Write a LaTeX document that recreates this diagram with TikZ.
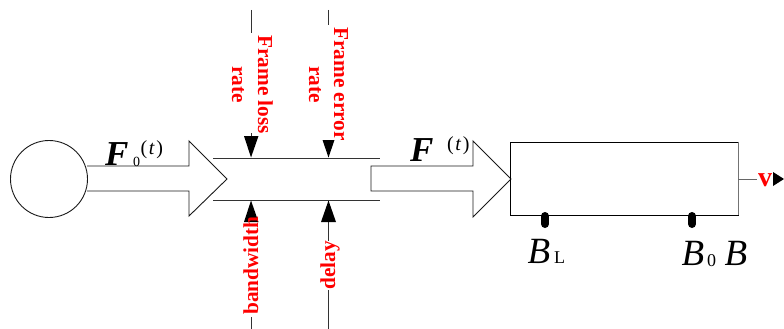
\documentclass[tikz,border=0pt]{standalone}
\usepackage{fontspec}
\setmainfont{Liberation Serif}
\usetikzlibrary{arrows.meta}
\definecolor{lineg}{gray}{0.2}
\tikzset{
 x=1pt,y=-1pt,
 wire/.style={draw=lineg,line width=1pt},
 outline/.style={draw=black!90,line width=0.9pt},
 head/.style={fill=black,draw=none},
 pill/.style={line width=8pt,line cap=round,draw=black},
 redtxt/.style={text=red,font=\fontsize{21.3}{21.3}\selectfont\bfseries,inner sep=0pt},
 bigF/.style={inner sep=0pt,anchor=base west,font=\fontsize{35}{35}\selectfont\bfseries\itshape},
 bigB/.style={inner sep=0pt,anchor=base west,font=\fontsize{37}{37}\selectfont\itshape},
 small/.style={inner sep=0pt,anchor=base west,font=\fontsize{18}{18}\selectfont},
 tlabel/.style={inner sep=0pt,anchor=base west,font=\fontsize{20}{20}\selectfont},
}
\begin{document}
\begin{tikzpicture}
\useasboundingbox (0,0) rectangle (784,329);
% source
\draw[outline] (49,179) circle (38.5);
% fat arrows
\draw[outline] (87,166) -- (189,166) -- (189,141) -- (227,179) -- (189,216) -- (189,191) -- (87,191);
\draw[outline] (371,166) -- (473,166) -- (473,141) -- (511,179) -- (473,217) -- (473,191) -- (371,191) -- cycle;
% pipe
\coordinate (pipeTL) at (213,158); \coordinate (pipeTR) at (380,158);
\coordinate (pipeBL) at (213,200); \coordinate (pipeBR) at (380,200);
\draw[wire] (pipeTL) -- (pipeTR);
\draw[wire] (pipeBL) -- (pipeBR);
% top connectors
\coordinate (t1a) at (251,10); \coordinate (t1b) at (251,33);
\coordinate (t2a) at (328,10); \coordinate (t2b) at (328,25);
\draw[wire] (t1a) -- (t1b);
\draw[wire] (t2a) -- (t2b);
\draw[wire] (251,133) -- (251,140);
\fill[head] (244,136) -- (258.5,136) -- (251,157.5) -- cycle;
\fill[head] (322.5,140) -- (334.5,140) -- (328.5,157.5) -- cycle;
% bottom connectors
\coordinate (b1a) at (251,317); \coordinate (b1b) at (251,329);
\coordinate (b2a) at (328.5,222); \coordinate (b2b) at (328.5,329);
\draw[wire] (b1a) -- (b1b);
\draw[wire] (b2a) -- (b2b);
\fill[head] (251,200.5) -- (258.5,222) -- (244,222) -- cycle;
\fill[head] (328.5,200.5) -- (336,222) -- (321,222) -- cycle;
% receiver
\node[draw=black,line width=0.9pt,minimum width=228pt,minimum height=73pt,inner sep=0pt] (box) at (624,178.5) {};
\coordinate (vout) at (757,179);
\draw[draw=black!55,line width=1pt] (box.north east) -- (box.south east);
\draw[wire,draw=black!60] (box.east |- vout) -- (vout);
\fill[head] (773,172) -- (784,179) -- (773,186) -- cycle;
\draw[pill] (545,216) -- (545,224);
\draw[pill] (692,216) -- (692,224);
% red labels
\node[redtxt,rotate=-90,anchor=base west] (fl1) at (258,35) {Frame loss};
\node[redtxt,rotate=-90,anchor=base west] (fl2) at (232,66) {rate};
\node[redtxt,rotate=-90,anchor=base west] (fe1) at (334,27) {Frame error};
\node[redtxt,rotate=-90,anchor=base west] (fe2) at (309,66) {rate};
\node[redtxt,rotate=90,anchor=base west] (bw) at (258,315) {bandwidth};
\node[redtxt,rotate=90,anchor=base west,fill=white] (dl) at (335,290) {delay};
\node[inner sep=0pt,anchor=base west,text=red,font=\fontsize{28}{28}\selectfont\bfseries] (v) at (758,186) {v};
% math-like labels
\node[bigF] (f0) at (105,165) {F};
\node[small,font=\fontsize{14}{14}\selectfont] (f0s) at (133,166) {0};
\node[tlabel] (f0t) at (140.5,154) {(\kern1.5pt\textit{t}\kern1.5pt)};
\node[bigF] (f1) at (410,161) {F};
\node[tlabel] (f1t) at (447,150) {(\kern1.5pt\textit{t}\kern1.5pt)};
\node[bigB] (bl) at (527.5,263) {B};
\node[small] (bls) at (554,263) {L};
\node[bigB] (b0) at (681.5,265) {B};
\node[small] (b0s) at (707,266) {0};
\node[bigB] (bb) at (724.5,265) {B};
\end{tikzpicture}
\end{document}
